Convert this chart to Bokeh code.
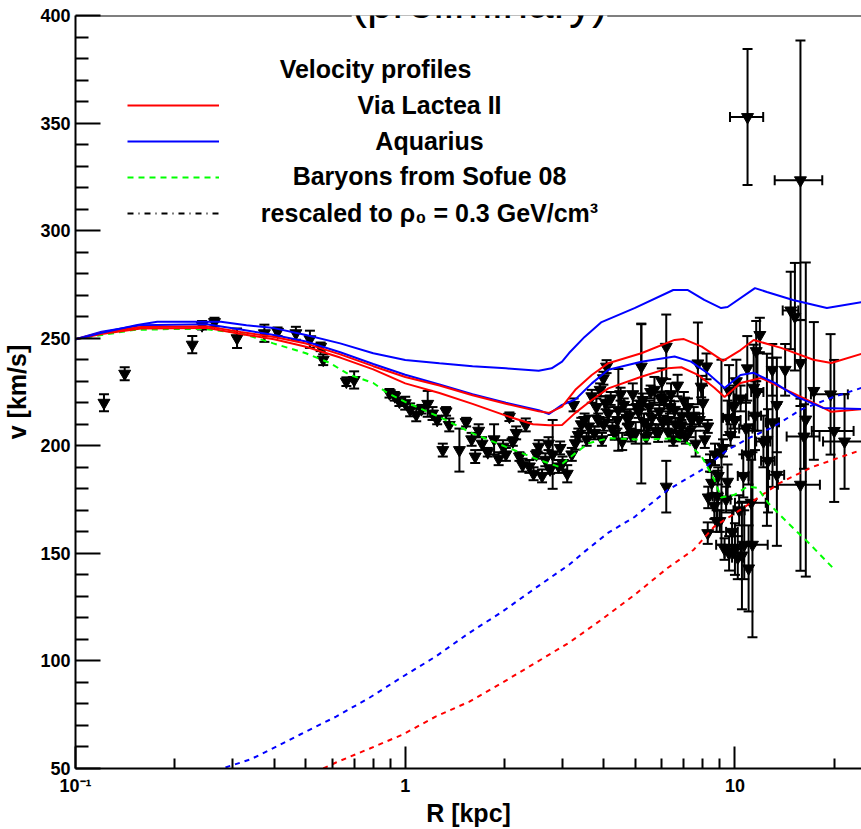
import math
from bokeh.plotting import figure
from bokeh.models import (ColumnDataSource, Range1d, FixedTicker, Label, Legend,
                          LegendItem, Span)
from bokeh.embed import file_html
from bokeh.resources import INLINE

# ---------------- curves (R in kpc, v in km/s) ----------------
# Via Lactea II (two solid red curves)
R_vl_a = [0.1, 0.12, 0.158, 0.25, 0.317, 0.4, 0.5, 0.635, 0.8, 1.0, 1.27, 1.6, 2.02, 2.54, 2.73,
          2.99, 3.28, 3.68, 4.13, 5.2, 6.56, 7.0, 7.93, 9.2, 10.4, 11.4, 13.8, 17.3, 19.6, 24.2]
v_vl_a = [249.5, 252.5, 255.2, 255.5, 252.9, 250.6, 247.5, 242.5, 237, 232, 228, 223.5, 219.5, 216,
          215.3, 218.2, 226, 232.9, 238.4, 243, 249.2, 249.6, 246.1, 239.5, 244.5, 249.2, 245.5,
          240, 238.5, 242.7]
R_vl_b = [0.1, 0.12, 0.158, 0.25, 0.317, 0.4, 0.5, 0.635, 0.8, 1.0, 1.27, 1.6, 2.02, 2.44, 2.73,
          2.99, 3.28, 3.68, 4.13, 5.2, 6.26, 6.88, 7.72, 8.66, 9.3, 10.4, 12.0, 14.3, 17.3, 19.6, 24.2]
v_vl_b = [249.5, 252, 254.5, 254.8, 252, 249.5, 246, 241, 235.5, 229, 224.5, 219.5, 214, 210, 209.5,
          209.7, 215.3, 221.3, 226.7, 232.1, 236, 236.5, 233, 227, 222.7, 229.2, 231.5, 226, 219.9,
          215.8, 217]
# Aquarius (two solid blue curves)
R_aq_a = [0.1, 0.12, 0.154, 0.177, 0.276, 0.33, 0.4, 0.5, 0.635, 0.8, 1.0, 1.27, 1.6, 2.02, 2.54,
          2.78, 2.99, 3.14, 3.5, 3.94, 4.96, 6.5, 7.2, 8.07, 9.08, 9.5, 11.5, 12.5, 15.0, 19.0, 24.2]
v_aq_a = [249.5, 252.5, 256.1, 257.7, 257.7, 256, 254.7, 251.5, 247.6, 243, 239.9, 238.4, 237, 236,
          234.9, 236, 239.1, 243.1, 250.6, 257.5, 264, 272.4, 272.4, 267.8, 264, 264.5, 273.3,
          271.5, 267.8, 264, 266.8]
R_aq_b = [0.1, 0.12, 0.158, 0.25, 0.317, 0.4, 0.5, 0.635, 0.8, 1.0, 1.27, 1.6, 2.02, 2.54, 2.73,
          2.99, 3.28, 3.68, 4.13, 5.2, 6.56, 7.36, 8.27, 9.3, 10.4, 11.4, 13.2, 15.4, 18.5, 24.2]
v_aq_b = [249.5, 253, 256, 256.5, 254, 251.5, 248.5, 243.5, 238, 233, 228.5, 224, 220, 216.5, 214.8,
          219, 221.5, 229, 235.3, 239.1, 241.5, 239.1, 233.7, 226.9, 232.9, 233.9, 229.2, 222.7,
          217.6, 217.1]
# Baryons from Sofue 08 (green dashed)
R_bar = [0.1, 0.15, 0.2, 0.245, 0.317, 0.398, 0.5, 0.59, 0.68, 0.8, 0.874, 1.0, 1.27, 1.59, 2.02,
         2.54, 2.92, 3.28, 3.6, 4.13, 5.2, 6.56, 7.2, 7.93, 8.66, 9.08, 9.97, 10.9, 11.7, 12.6,
         14.5, 16.7, 19.8]
v_bar = [249.5, 253.8, 254.3, 254.3, 252.4, 247.6, 243, 238.5, 232.9, 229.2, 225, 220.4, 213.4, 206,
         199.5, 193.5, 190.3, 196.6, 201.2, 203.5, 202.8, 203.5, 201.2, 195, 184.2, 176, 177.2,
         181, 180.5, 173.5, 164, 155, 143.3]
# dark-matter-only contributions (dashed)
R_vl_dm = [0.564, 0.617, 0.781, 0.983, 1.236, 1.566, 1.97, 2.49, 3.14, 3.94, 4.97, 6.26, 7.5, 8.65,
           10.4, 13.7, 17.2, 24.2]
v_vl_dm = [50, 52.8, 59.3, 65.8, 74.1, 81.1, 89.9, 99.2, 108.5, 119.2, 130.8, 143.3, 151.7, 162.4,
           170.3, 182.8, 190.2, 198.1]
R_aq_dm = [0.285, 0.339, 0.407, 0.48, 0.617, 0.781, 0.983, 1.236, 1.566, 1.97, 2.49, 3.14, 3.5,
           4.13, 4.97, 6.26, 7.93, 9.5, 11.2, 13.1, 15.8, 19.9, 24.2]
v_aq_dm = [50.5, 54.2, 60.2, 65.8, 74.1, 83, 92.7, 102, 113.1, 122.9, 134, 144.7, 150.8, 159.6,
           167, 179.5, 188.8, 198.1, 204.1, 208.8, 216.7, 222.7, 226.9]

# ---------------- rotation curve data ----------------
R_inner = [0.122, 0.141, 0.226, 0.242, 0.264, 0.309, 0.374, 0.41, 0.466, 0.514, 0.554, 0.564, 0.663,
           0.70, 0.896, 0.93, 0.96, 1.0, 1.035, 1.08, 1.12, 1.17, 1.21, 1.25, 1.30, 1.33, 1.36,
           1.46, 1.53, 1.59, 1.63, 1.67, 1.71, 1.78, 1.86, 1.92, 1.98, 2.02, 2.07, 2.12, 2.17,
           2.22, 2.27, 2.32, 2.38, 2.45, 2.50, 2.54, 2.6, 2.66, 2.72, 2.75, 2.8, 2.92, 2.95, 3.0,
           3.1, 3.2]
v_inner = [220, 233.5, 247, 256, 257.5, 250, 252.3, 253, 252.3, 249.5, 246, 240, 229.8, 230.6, 224.4,
           223, 220.5, 219.8, 216.7, 214.4, 217, 219.5, 215, 212, 198, 216, 209.7, 198, 211, 203,
           195, 207, 201, 197, 203, 194, 199.6, 196, 213.5, 202, 206, 195, 191, 209.7, 190.4, 187,
           196, 199.6, 186, 193.5, 201, 189, 196, 190.4, 199, 192, 187, 196]
dv_inner = [4, 3, 4, 2, 2, 4.5, 4, 2, 3, 4, 2, 2.5, 2, 4, 2, 2, 2, 3, 3, 3, 2, 6, 3, 2, 3, 2, 3, 10,
            2, 3, 3, 3, 3, 2, 7, 3, 3, 3, 2, 2, 3, 2, 3, 3, 3, 3, 2, 3, 3, 3, 3, 2, 16, 3, 3, 3,
            4, 3]

R_mid = [3.24, 3.28, 3.35, 3.42, 3.5, 3.55, 3.6, 3.68, 3.75, 3.8, 3.85, 3.9, 3.95, 3.99, 4.0, 4.05,
         4.08, 4.13, 4.2, 4.25, 4.32, 4.4, 4.43, 4.5, 4.55, 4.6, 4.7, 4.75, 4.8, 4.85, 4.9, 5.0,
         5.05, 5.1, 5.2, 5.2, 5.25, 5.3, 5.38, 5.45, 5.5, 5.55, 5.6, 5.7, 5.75, 5.85, 5.9, 5.95,
         6.0, 6.05, 6.1, 6.19, 6.19, 6.26, 6.3, 6.35, 6.4, 6.5, 6.56, 6.6, 6.7, 6.8, 6.88, 6.9,
         7.0, 7.1, 7.2, 7.3, 7.4, 7.5, 7.6, 7.72, 7.8, 7.9, 8.0, 8.1, 8.2, 8.27]
v_mid = [219, 201.2, 205, 210, 212, 203, 209, 223, 206, 218, 212, 226, 203, 231.4, 210, 220, 236.8,
         215, 222, 208, 205.8, 212, 216.7, 224, 202, 219, 213, 209, 214, 205, 224, 206, 218, 216,
         236.8, 219.5, 221.3, 211, 204, 209, 218, 225, 213, 226, 207, 205.8, 216, 222, 230, 211,
         221.3, 246, 181, 212, 206, 218, 224, 203, 216.7, 210, 228, 205, 209, 214, 221, 204, 218,
         207, 212, 214, 201, 238.3, 212, 227.5, 220, 203, 236.9, 209]
dv_mid = [3, 3, 3, 3, 3, 3, 5, 3, 3, 4, 3, 3, 3, 3, 3, 3, 3, 3, 3, 3, 3, 4, 19, 3, 4, 3, 3, 4, 3, 3,
          5, 5, 3, 3, 20, 37, 3, 4, 3, 3, 3, 3, 3, 6, 3, 4, 3, 3, 6, 3, 4, 15, 12, 4, 4, 3, 5, 3, 4,
          3, 5, 3, 3, 3, 4, 3, 4, 3, 3, 4, 6, 19, 3, 5, 8, 4, 6, 3]

R_outer = [8.27, 8.3, 8.4, 8.5, 8.66, 8.7, 8.8, 8.85, 8.9, 9.0, 9.1, 9.2, 9.3, 9.4, 9.5, 9.5, 9.6,
           9.6, 9.7, 9.8, 9.9, 10.0, 10.0, 10.1, 10.2, 10.3, 10.4, 10.5, 10.6, 10.8, 10.9, 11.0,
           11.0, 11.2, 11.3, 11.4, 11.5, 11.6, 11.7, 11.9, 12.2, 12.5, 12.6, 12.98, 13.0, 13.4,
           13.4, 14.2, 14.76, 15.2, 15.8, 15.8, 15.8, 16.2, 16.4, 17.35, 19.5, 20.0, 21.5, 10.92,
           10.67]
v_outer = [159.4, 176, 192, 182.8, 172, 196, 165, 176.4, 186, 165, 197, 199, 152, 175, 183.3, 213,
           225.5, 150, 205, 160, 218, 152, 212, 230, 148, 170, 222, 149, 186, 208, 236, 143, 196,
           173.5, 154, 227, 214, 244, 225, 251.5, 202, 202.8, 193, 235.3, 210.9, 219, 186.5, 235.3,
           262.9, 260, 323.4, 238.5, 181.9, 204.3, 212.2, 225.5, 223.9, 206.9, 202, 352.8, 154]
dv_outer = [5, 5, 4, 5, 6, 5, 5, 12, 4, 5, 43, 4, 5, 6, 8, 8, 12, 8, 5, 10, 10, 12, 8, 10, 10, 7, 6,
            25, 10, 12, 15, 20, 14, 20, 43, 20, 16, 14, 18, 8, 12, 40, 24, 12, 30, 22, 33, 12, 18,
            25, 65, 20, 40, 15, 73, 32, 28, 33, 22, 31.6, 16]
dR_outer = [0, 0, 0, 0, 0, 0, 0, 0.3, 0, 0, 0, 0, 0, 0.3, 0, 0.3, 0, 0.3, 0, 0.4, 0, 0.4, 0.4, 0,
            0.4, 0.4, 0.4, 0, 0.4, 0.5, 0, 0, 0.5, 1.2, 0, 0, 0.5, 0, 0.5, 0, 0.6, 0, 0.6, 0, 0.6,
            0, 0.7, 0, 0.8, 0, 2.6, 0, 2.3, 1.85, 0, 0, 2.5, 2.9, 3.0, 1.26, 1.9]

# axis ticks
x_major = [0.1, 1, 10]
x_minor = [0.2, 0.3, 0.4, 0.5, 0.6, 0.7, 0.8, 0.9, 2, 3, 4, 5, 6, 7, 8, 9, 20]
y_major = [50, 100, 150, 200, 250, 300, 350, 400]
y_minor = [v for v in range(60, 400, 10) if v % 50 != 0]

# legend texts
legend_title = "Velocity profiles"
legend_labels = ["Via Lactea II", "Aquarius", "Baryons from Sofue 08",
                 "rescaled to \u03c1\u2080 = 0.3 GeV/cm\u00b3"]

# ---------------- figure ----------------
FONT = "Liberation Sans"
p = figure(width=861, height=829, x_axis_type="log", output_backend="svg", toolbar_location=None,
           x_range=Range1d(0.1, 24.2), y_range=Range1d(50, 400),
           min_border_left=71, min_border_right=0, min_border_top=15, min_border_bottom=60)
p.outline_line_color = None
p.xgrid.visible = False
p.ygrid.visible = False
p.background_fill_color = "white"
p.border_fill_color = "white"

for ax in (p.xaxis[0], p.yaxis[0]):
    ax.axis_line_width = 2
    ax.axis_line_color = "black"
    ax.major_tick_out = 0
    ax.minor_tick_out = 0
    ax.major_tick_line_width = 2
    ax.minor_tick_line_width = 2
    ax.major_label_text_font = FONT
    ax.major_label_text_font_style = "bold"
    ax.major_label_text_font_size = "18px"
    ax.major_label_text_color = "black"
    ax.axis_label_text_font = FONT
    ax.axis_label_text_font_style = "bold"
    ax.axis_label_text_font_size = "25px"
    ax.axis_label_text_color = "black"

p.xaxis.ticker = FixedTicker(ticks=x_major, minor_ticks=x_minor)
p.xaxis.major_label_overrides = {0.1: "10\u207b\u00b9", 1: "1", 10: "10"}
p.xaxis.major_tick_in = 22
p.xaxis.minor_tick_in = 10
p.xaxis.major_label_standoff = 7
p.xaxis.axis_label = "R [kpc]"
p.xaxis.axis_label_standoff = 0

p.yaxis.ticker = FixedTicker(ticks=y_major, minor_ticks=y_minor)
p.yaxis.major_tick_in = 25
p.yaxis.minor_tick_in = 13
p.yaxis.major_label_standoff = 5
p.yaxis.axis_label = "v [km/s]"
p.yaxis.axis_label_standoff = 6

# top frame line
p.add_layout(Span(location=400, dimension="width", line_color="black", line_width=2))

# ---------------- data points ----------------
R_all = R_inner + R_mid + R_outer
v_all = v_inner + v_mid + v_outer
dv_all = dv_inner + dv_mid + dv_outer
dR_all = [0] * (len(R_inner) + len(R_mid)) + dR_outer

pts = ColumnDataSource(dict(
    x=R_all, y=v_all,
    ylo=[v - e for v, e in zip(v_all, dv_all)],
    yhi=[v + e for v, e in zip(v_all, dv_all)],
))
p.segment(x0="x", y0="ylo", x1="x", y1="yhi", source=pts, line_color="black", line_width=2)
p.scatter(x="x", y="ylo", marker="dash", size=10, source=pts, line_color="black", line_width=2)
p.scatter(x="x", y="yhi", marker="dash", size=10, source=pts, line_color="black", line_width=2)

hx = [(r, v, d) for r, v, d in zip(R_all, v_all, dR_all) if d > 0]
hsrc = ColumnDataSource(dict(
    y=[h[1] for h in hx],
    xlo=[h[0] - h[2] for h in hx],
    xhi=[h[0] + h[2] for h in hx],
))
p.segment(x0="xlo", y0="y", x1="xhi", y1="y", source=hsrc, line_color="black", line_width=2)
p.scatter(x="xlo", y="y", marker="dash", angle=math.pi / 2, size=10, source=hsrc,
          line_color="black", line_width=2)
p.scatter(x="xhi", y="y", marker="dash", angle=math.pi / 2, size=10, source=hsrc,
          line_color="black", line_width=2)
p.scatter(x="x", y="y", marker="inverted_triangle", size=12, source=pts,
          fill_color="black", line_color="black")

# ---------------- curves ----------------
r_aq_dm = p.line(R_aq_dm, v_aq_dm, line_color="#0000ff", line_width=2, line_dash="5 5")
r_vl_dm = p.line(R_vl_dm, v_vl_dm, line_color="#ff0000", line_width=2, line_dash="5 5")
r_bar = p.line(R_bar, v_bar, line_color="#00ff00", line_width=2, line_dash="6 5")
r_vl_b = p.line(R_vl_b, v_vl_b, line_color="#ff0000", line_width=2)
r_aq_b = p.line(R_aq_b, v_aq_b, line_color="#0000ff", line_width=2)
r_vl_a = p.line(R_vl_a, v_vl_a, line_color="#ff0000", line_width=2)
r_aq_a = p.line(R_aq_a, v_aq_a, line_color="#0000ff", line_width=2)
# legend-only entry (no drawn data)
r_resc = p.line([float("nan")], [float("nan")], line_color="black", line_width=2,
                line_dash="6 5 1 5")

# ---------------- legend (samples) + centred texts ----------------
legend = Legend(items=[
    LegendItem(label=" ", renderers=[r_vl_a]),
    LegendItem(label=" ", renderers=[r_aq_a]),
    LegendItem(label=" ", renderers=[r_bar]),
    LegendItem(label=" ", renderers=[r_resc]),
], location=(52, 540), glyph_width=92, glyph_height=30, spacing=6, padding=0, margin=0,
    label_standoff=5, label_text_font=FONT, label_text_font_size="25px",
    border_line_color=None, background_fill_alpha=0)
p.add_layout(legend)

row_y = [664, 628, 593, 556]
for txt, yy in zip(legend_labels, row_y):
    p.add_layout(Label(x=354, y=yy, x_units="screen", y_units="screen", text=txt,
                       text_align="center", text_baseline="middle", text_font=FONT,
                       text_font_style="bold", text_font_size="25px", text_color="black"))

p.add_layout(Label(x=300, y=700, x_units="screen", y_units="screen", text=legend_title,
                   text_align="center", text_baseline="middle", text_font=FONT,
                   text_font_style="bold", text_font_size="25px", text_color="black"))

p.add_layout(Label(x=404, y=767, x_units="screen", y_units="screen", text="(preliminary)",
                   text_align="center", text_baseline="alphabetic", text_font=FONT,
                   text_font_size="46px", text_color="black",
                   background_fill_color="white"))

open("out.html", "w").write(file_html(p, INLINE))
